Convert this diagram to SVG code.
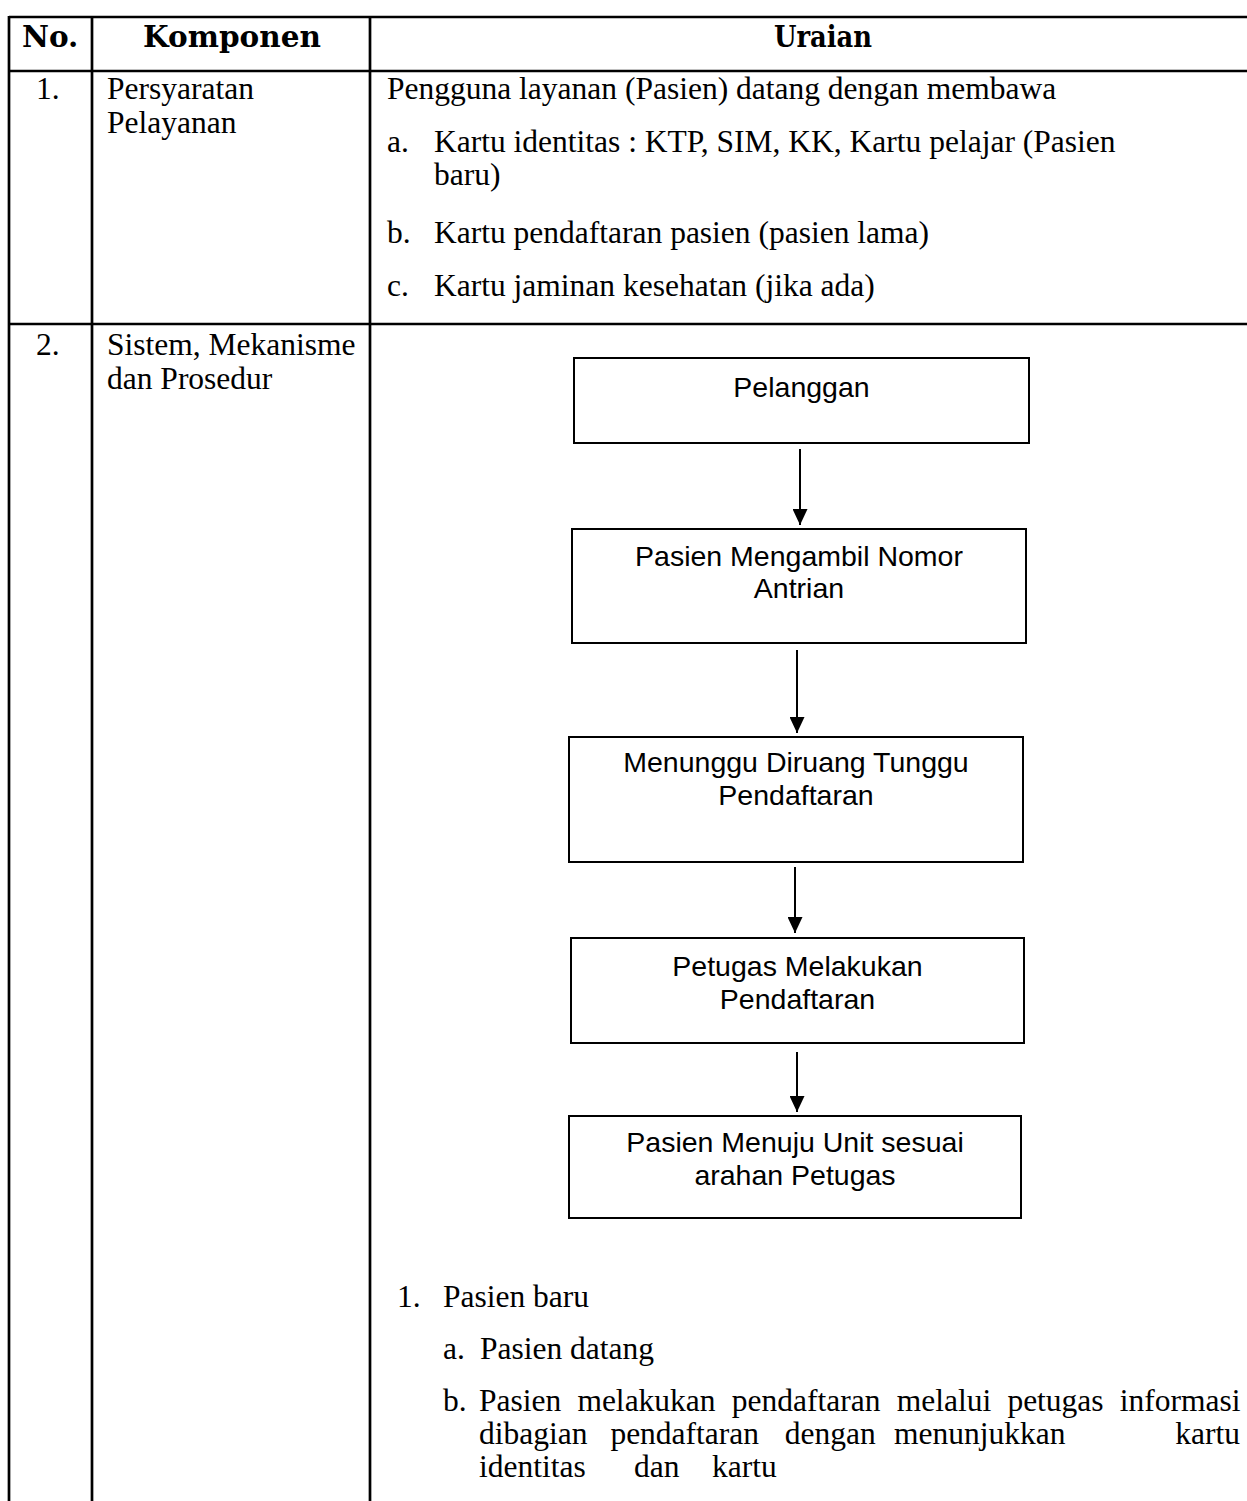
<svg xmlns="http://www.w3.org/2000/svg" width="1247" height="1501" viewBox="0 0 1247 1501">
<style>
.grid{stroke:#000;stroke-width:2.7;fill:none}
.hdr{font-family:"DejaVu Serif",serif;font-weight:bold;font-size:29.5px;fill:#000}
.tx{font-family:"Liberation Serif","Times New Roman",serif;font-size:31.5px;fill:#000}
.box{fill:#fff;stroke:#000;stroke-width:2}
.bt{font-family:"Liberation Sans",Arial,sans-serif;font-size:28.5px;fill:#000;text-anchor:middle}
.conn{stroke:#000;stroke-width:2;fill:none}
</style>
<defs>
<marker id="ah" markerUnits="userSpaceOnUse" markerWidth="16" markerHeight="15" refX="16" refY="7.5" orient="auto">
<path d="M0,0 L16,7.5 L0,15 z" fill="#000"/>
</marker>
</defs>
<rect width="1247" height="1501" fill="#fff"/>
<g id="table">
<line class="grid" x1="9" y1="17" x2="1247" y2="17"/>
<line class="grid" x1="9" y1="71" x2="1247" y2="71"/>
<line class="grid" x1="9" y1="324" x2="1247" y2="324"/>
<line class="grid" x1="9" y1="16" x2="9" y2="1501"/>
<line class="grid" x1="92" y1="16" x2="92" y2="1501"/>
<line class="grid" x1="370" y1="16" x2="370" y2="1501"/>
</g>
<g id="header">
<text class="hdr" x="22" y="47">No.</text>
<text class="hdr" x="232" y="47" text-anchor="middle">Komponen</text>
<text class="hdr" x="774" y="47" textLength="98" lengthAdjust="spacingAndGlyphs">Uraian</text>
</g>
<g id="row1">
<text class="tx" x="36" y="99">1.</text>
<text class="tx" x="107" y="99">Persyaratan</text>
<text class="tx" x="107" y="133">Pelayanan</text>
<text class="tx" x="387" y="99">Pengguna layanan (Pasien) datang dengan membawa</text>
<text class="tx" x="387" y="152">a.</text>
<text class="tx" x="434" y="152">Kartu identitas : KTP, SIM, KK, Kartu pelajar (Pasien</text>
<text class="tx" x="434" y="185">baru)</text>
<text class="tx" x="387" y="243">b.</text>
<text class="tx" x="434" y="243">Kartu pendaftaran pasien (pasien lama)</text>
<text class="tx" x="387" y="296">c.</text>
<text class="tx" x="434" y="296">Kartu jaminan kesehatan (jika ada)</text>
</g>
<g id="row2">
<text class="tx" x="36" y="355">2.</text>
<text class="tx" x="107" y="355">Sistem, Mekanisme</text>
<text class="tx" x="107" y="389">dan Prosedur</text>
</g>
<g id="connectors">
<line class="conn" x1="800" y1="449" x2="800" y2="525" marker-end="url(#ah)"/>
<line class="conn" x1="797" y1="650" x2="797" y2="733" marker-end="url(#ah)"/>
<line class="conn" x1="795" y1="867" x2="795" y2="933" marker-end="url(#ah)"/>
<line class="conn" x1="797" y1="1052" x2="797" y2="1112" marker-end="url(#ah)"/>
</g>
<g id="node-pelanggan">
<rect class="box" x="574" y="358" width="455" height="85"/>
<text class="bt" x="801.5" y="397">Pelanggan</text>
</g>
<g id="node-antrian">
<rect class="box" x="572" y="529" width="454" height="114"/>
<text class="bt" x="799" y="566">Pasien Mengambil Nomor</text>
<text class="bt" x="799" y="598">Antrian</text>
</g>
<g id="node-menunggu">
<rect class="box" x="569" y="737" width="454" height="125"/>
<text class="bt" x="796" y="772">Menunggu Diruang Tunggu</text>
<text class="bt" x="796" y="805">Pendaftaran</text>
</g>
<g id="node-petugas">
<rect class="box" x="571" y="938" width="453" height="105"/>
<text class="bt" x="797.5" y="976">Petugas Melakukan</text>
<text class="bt" x="797.5" y="1009">Pendaftaran</text>
</g>
<g id="node-unit">
<rect class="box" x="569" y="1116" width="452" height="102"/>
<text class="bt" x="795" y="1152">Pasien Menuju Unit sesuai</text>
<text class="bt" x="795" y="1185">arahan Petugas</text>
</g>
<g id="list">
<text class="tx" x="397" y="1307">1.</text>
<text class="tx" x="443" y="1307">Pasien baru</text>
<text class="tx" x="443" y="1359">a.</text>
<text class="tx" x="480" y="1359">Pasien datang</text>
<text class="tx" x="443" y="1411">b.</text>
<text class="tx" y="1411"><tspan x="479">Pasien</tspan><tspan x="577.4">melakukan</tspan><tspan x="731.8">pendaftaran</tspan><tspan x="896.7">melalui</tspan><tspan x="1007.4">petugas</tspan><tspan x="1119.8">informasi</tspan></text>
<text class="tx" y="1444"><tspan x="479">dibagian</tspan><tspan x="610.4">pendaftaran</tspan><tspan x="784.7">dengan</tspan><tspan x="894">menunjukkan</tspan><tspan x="1175.3">kartu</tspan></text>
<text class="tx" y="1477"><tspan x="479">identitas</tspan><tspan x="634">dan</tspan><tspan x="712">kartu</tspan></text>
</g>
</svg>
